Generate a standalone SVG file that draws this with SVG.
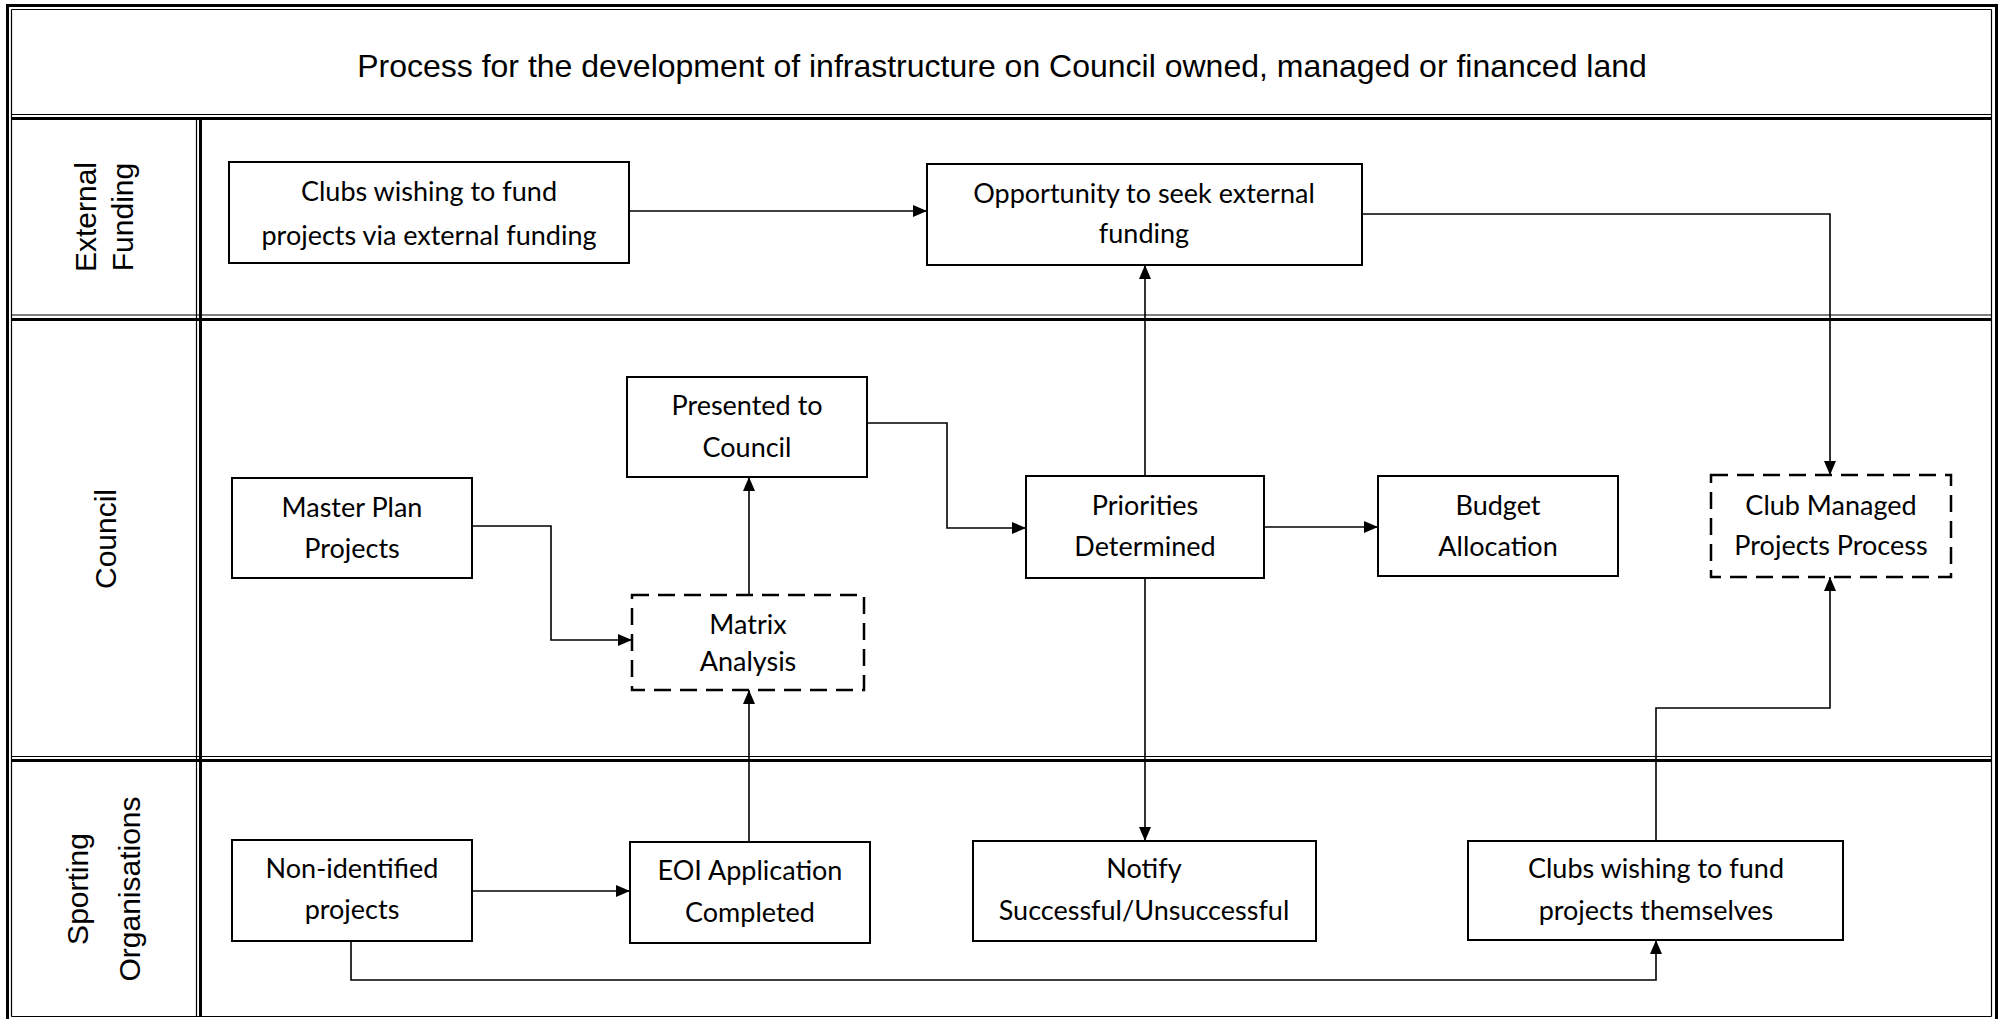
<svg xmlns="http://www.w3.org/2000/svg" width="2001" height="1019" viewBox="0 0 2001 1019">
<defs>
<marker id="arr" viewBox="0 0 14 12" refX="14" refY="6" markerWidth="14" markerHeight="12" markerUnits="userSpaceOnUse" orient="auto">
<path d="M0,0 L14,6 L0,12 Z" fill="#000"/>
</marker>
</defs>
<style>
.thin{stroke:#000;stroke-width:1.2;fill:none}
.thick{stroke:#000;stroke-width:3;fill:none}
.box{fill:#fff;stroke:#000;stroke-width:2}
.dbox{fill:#fff;stroke:#000;stroke-width:2.5;stroke-dasharray:17 9}
.t{font-family:Lato,"Open Sans",sans-serif;font-size:27px;fill:#000;text-anchor:middle}
.lane{font-family:"Liberation Sans",Arial,sans-serif;font-size:30px;fill:#000;text-anchor:middle}
.title{font-family:"Liberation Sans",Arial,sans-serif;font-size:32px;fill:#000;text-anchor:middle}
.c{stroke:#000;stroke-width:1.6;fill:none}
</style>
<rect x="0" y="0" width="2001" height="1019" fill="#fff"/>
<g id="frame">
<line class="thick" x1="6" y1="5.5" x2="1998" y2="5.5"/>
<line class="thick" x1="7.5" y1="4" x2="7.5" y2="1019"/>
<line class="thick" x1="1996.5" y1="4" x2="1996.5" y2="1019"/>
<line class="thin" x1="11.5" y1="9.5" x2="1991.5" y2="9.5"/>
<line class="thin" x1="11.5" y1="9.5" x2="11.5" y2="1016.5"/>
<line class="thin" x1="1991.5" y1="9.5" x2="1991.5" y2="1016.5"/>
<line class="thin" x1="11.5" y1="1016.5" x2="1991.5" y2="1016.5"/>
<line class="thin" x1="11.5" y1="114.5" x2="1991.5" y2="114.5"/>
<line class="thick" x1="11.5" y1="118.5" x2="1991.5" y2="118.5"/>
<line class="thin" x1="11.5" y1="315" x2="1991.5" y2="315"/>
<line class="thick" x1="11.5" y1="319.5" x2="1991.5" y2="319.5"/>
<line class="thin" x1="11.5" y1="756.5" x2="1991.5" y2="756.5"/>
<line class="thick" x1="11.5" y1="760.5" x2="1991.5" y2="760.5"/>
<line class="thin" x1="196.5" y1="120" x2="196.5" y2="1016.5"/>
<line class="thick" x1="200.5" y1="120" x2="200.5" y2="1016.5"/>
</g>
<g id="title"><text class="title" x="1002" y="77">Process for the development of infrastructure on Council owned, managed or financed land</text></g>
<g id="lane-external">
<text class="lane" transform="translate(96,217) rotate(-90)">External</text>
<text class="lane" transform="translate(133,217) rotate(-90)">Funding</text>
</g>
<g id="lane-council"><text class="lane" transform="translate(116,539) rotate(-90)">Council</text></g>
<g id="lane-sporting">
<text class="lane" transform="translate(88,889) rotate(-90)">Sporting</text>
<text class="lane" transform="translate(140,889) rotate(-90)">Organisations</text>
</g>
<g id="connectors">
<path class="c" d="M629,211 H927" marker-end="url(#arr)"/>
<path class="c" d="M1362,214 H1830 V475" marker-end="url(#arr)"/>
<path class="c" d="M1145,476 V265" marker-end="url(#arr)"/>
<path class="c" d="M867,423 H947 V528 H1026" marker-end="url(#arr)"/>
<path class="c" d="M472,526 H551 V640 H632" marker-end="url(#arr)"/>
<path class="c" d="M749,595 V477" marker-end="url(#arr)"/>
<path class="c" d="M749,842 V690" marker-end="url(#arr)"/>
<path class="c" d="M1264,527 H1378" marker-end="url(#arr)"/>
<path class="c" d="M1145,578 V841" marker-end="url(#arr)"/>
<path class="c" d="M472,891 H630" marker-end="url(#arr)"/>
<path class="c" d="M351,941 V980 H1656 V940" marker-end="url(#arr)"/>
<path class="c" d="M1656,841 V708 H1830 V577" marker-end="url(#arr)"/>
</g>
<g id="n-clubs-ext"><rect class="box" x="229" y="162" width="400" height="101"/><text class="t" x="429" y="201">Clubs wishing to fund</text><text class="t" x="429" y="245">projects via external funding</text></g>
<g id="n-opportunity"><rect class="box" x="927" y="164" width="435" height="101"/><text class="t" x="1144" y="203">Opportunity to seek external</text><text class="t" x="1144" y="243">funding</text></g>
<g id="n-presented"><rect class="box" x="627" y="377" width="240" height="100"/><text class="t" x="747" y="415">Presented to</text><text class="t" x="747" y="457">Council</text></g>
<g id="n-masterplan"><rect class="box" x="232" y="478" width="240" height="100"/><text class="t" x="352" y="517">Master Plan</text><text class="t" x="352" y="558">Projects</text></g>
<g id="n-matrix"><rect class="dbox" x="632" y="595" width="232" height="95"/><text class="t" x="748" y="634">Matrix</text><text class="t" x="748" y="671">Analysis</text></g>
<g id="n-priorities"><rect class="box" x="1026" y="476" width="238" height="102"/><text class="t" x="1145" y="515">Priorities</text><text class="t" x="1145" y="556">Determined</text></g>
<g id="n-budget"><rect class="box" x="1378" y="476" width="240" height="100"/><text class="t" x="1498" y="515">Budget</text><text class="t" x="1498" y="556">Allocation</text></g>
<g id="n-clubmanaged"><rect class="dbox" x="1711" y="475" width="240" height="102"/><text class="t" x="1831" y="515">Club Managed</text><text class="t" x="1831" y="555">Projects Process</text></g>
<g id="n-nonidentified"><rect class="box" x="232" y="840" width="240" height="101"/><text class="t" x="352" y="878">Non-identified</text><text class="t" x="352" y="919">projects</text></g>
<g id="n-eoi"><rect class="box" x="630" y="842" width="240" height="101"/><text class="t" x="750" y="880">EOI Application</text><text class="t" x="750" y="922">Completed</text></g>
<g id="n-notify"><rect class="box" x="973" y="841" width="343" height="100"/><text class="t" x="1144" y="878">Notify</text><text class="t" x="1144" y="920">Successful/Unsuccessful</text></g>
<g id="n-clubs-self"><rect class="box" x="1468" y="841" width="375" height="99"/><text class="t" x="1656" y="878">Clubs wishing to fund</text><text class="t" x="1656" y="920">projects themselves</text></g>
</svg>
